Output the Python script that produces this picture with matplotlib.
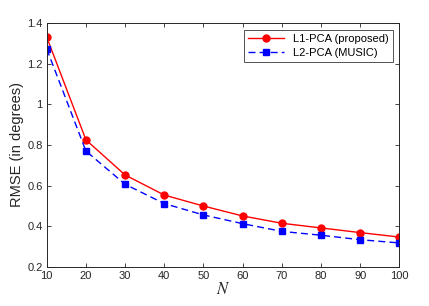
import matplotlib
matplotlib.use("Agg")
import matplotlib.pyplot as plt

N = [10, 20, 30, 40, 50, 60, 70, 80, 90, 100]
l1_pca = [1.331, 0.825, 0.652, 0.553, 0.499, 0.450, 0.414, 0.391, 0.368, 0.346]
l2_pca = [1.273, 0.770, 0.606, 0.511, 0.455, 0.412, 0.374, 0.355, 0.333, 0.317]
xticks = [10, 20, 30, 40, 50, 60, 70, 80, 90, 100]
yticks = [0.2, 0.4, 0.6, 0.8, 1.0, 1.2, 1.4]
ytick_labels = ["0.2", "0.4", "0.6", "0.8", "1", "1.2", "1.4"]

plt.rcParams['font.family'] = ['Liberation Sans', 'DejaVu Sans']
plt.rcParams['mathtext.fontset'] = 'stix'

fig = plt.figure(figsize=(4.29, 3.06), dpi=100)
ax = fig.add_axes([0.109, 0.1285, 0.822, 0.7955])

ax.plot(N, l1_pca, '-', color='red', marker='o', markersize=5, linewidth=1.0,
        label='L1-PCA (proposed)')
ax.plot(N, l2_pca, '--', color='blue', marker='s', markersize=4.5, linewidth=1.0,
        dashes=(5, 3), label='L2-PCA (MUSIC)')

ax.set_xlim(10, 100)
ax.set_ylim(0.2, 1.4)
ax.set_xticks(xticks)
ax.set_yticks(yticks)
ax.set_yticklabels(ytick_labels)
ax.tick_params(direction='in', length=3, width=0.6, top=True, right=True,
               labelsize=8, colors='#262626', pad=3)
for s in ax.spines.values():
    s.set_color('#262626')
    s.set_linewidth(0.7)

ax.set_ylabel('RMSE (in degrees)', fontsize=10.5, color='#262626', labelpad=2)
ax.set_xlabel('$N$', fontsize=12, color='#262626', labelpad=0)

leg = ax.legend(loc='upper right', fontsize=8, frameon=True, fancybox=False,
                edgecolor='#262626', borderpad=0.4, handlelength=3.2,
                labelspacing=0.3, borderaxespad=0.6)
leg.get_frame().set_linewidth(0.7)

fig.savefig('out.png', dpi=100)
